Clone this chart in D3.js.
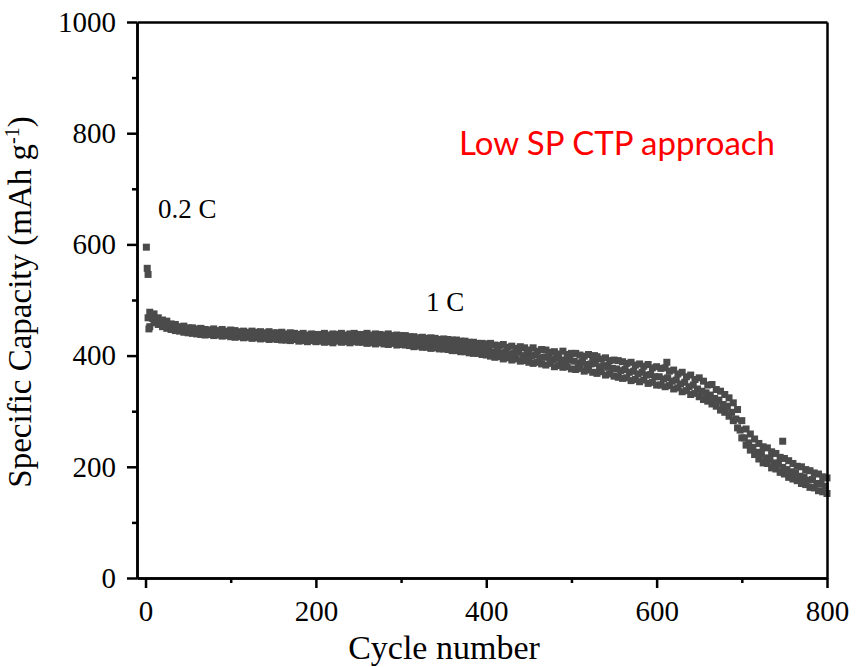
<!DOCTYPE html>
<html>
<head>
<meta charset="utf-8">
<script src="https://cdn.jsdelivr.net/npm/d3@7"></script>
<style>
body{margin:0;background:#fff;}
.ax .domain,.ax line{stroke:#000;stroke-width:2.5;}
</style>
</head>
<body>
<svg id="plot" width="856" height="667"></svg>
<script>
//capacity vs cycle

var cycles = [5,10,15,20,25,30,35,40,45,50,
	55,60,65,70,75,80,85,90,95,100,
	105,110,115,120,125,130,135,140,145,150,
	155,160,165,170,175,180,185,190,195,200,
	205,210,215,220,225,230,235,240,245,250,
	255,260,265,270,275,280,285,290,295,300,
	305,310,315,320,325,330,335,340,345,350,
	355,360,365,370,375,380,385,390,395,400,
	405,410,415,420,425,430,435,440,445,450,
	455,460,465,470,475,480,485,490,495,500,
	505,510,515,520,525,530,535,540,545,550,
	555,560,565,570,575,580,585,590,595,600,
	605,610,615,620,625,630,635,640,645,650,
	655,660,665,670,675,680,685,690,695,700,
	705,710,715,720,725,730,735,740,745,750,
	755,760,765,770,775,780,785,790,795,800];

var midCycles = [3,8,13,18,23,28,33,38,43,48,
	53,58,63,68,73,78,83,88,93,98,
	103,108,113,118,123,128,133,138,143,148,
	153,158,163,168,173,178,183,188,193,198,
	203,208,213,218,223,228,233,238,243,248,
	253,258,263,268,273,278,283,288,293,298,
	303,308,313,318,323,328,333,338,343,348,
	353,358,363,368,373,378,383,388,393,398,
	403,408,413,418,423,428,433,438,443,448,
	453,458,463,468,473,478,483,488,493,498,
	503,508,513,518,523,528,533,538,543,548,
	553,558,563,568,573,578,583,588,593,598,
	603,608,613,618,623,628,633,638,643,648,
	653,658,663,668,673,678,683,688,693,698,
	703,708,713,718,723,728,733,738,743,748,
	753,758,763,768,773,778,783,788,793,798];

// top edge of the band
var upperCap = [478,475,468,464,462,457,456,452,453,450,
	450,448,449,447,446,448,445,447,444,446,
	445,443,444,442,444,442,443,441,443,441,
	441,442,439,441,440,438,440,437,439,438,
	438,440,437,439,438,440,437,439,440,438,
	438,440,437,439,438,437,439,436,437,436,
	436,434,434,432,433,431,432,431,429,430,
	429,428,428,426,426,424,424,422,422,421,
	422,419,418,420,415,417,413,416,414,410,
	414,408,411,410,406,407,403,408,402,404,
	404,401,399,402,396,398,394,396,391,392,
	391,389,386,388,383,385,381,384,378,380,
	377,378,372,374,367,370,362,365,357,360,
	354,347,348,339,336,330,324,315,303,283,
	268,259,250,242,236,234,227,224,217,215,
	211,206,201,200,195,193,189,187,182,180];

// middle of the band
var midCap = [468,467,460,459,454,453,449,449,446,447,
	444,445,442,444,441,443,440,442,439,441,
	438,440,437,439,437,436,438,435,437,436,
	434,436,433,435,433,432,434,431,433,432,
	431,433,432,430,433,431,432,430,433,431,
	430,432,429,431,429,428,430,428,427,429,
	428,425,426,424,423,424,422,423,420,421,
	419,420,417,418,415,416,413,414,411,412,
	410,406,409,405,407,402,404,406,400,402,
	399,401,396,397,398,393,395,392,390,393,
	390,387,389,384,385,386,380,382,379,377,
	376,373,375,370,372,367,370,365,366,362,
	362,358,360,354,356,349,352,344,347,340,
	336,333,329,323,320,312,309,298,286,266,
	252,243,235,226,224,216,215,207,206,199,
	195,191,189,183,182,176,177,170,170,165];

// bottom edge of the band
var lowerCap = [452,459,456,452,449,447,445,444,442,441,
	440,439,438,437,438,436,437,435,436,434,
	433,434,432,433,431,432,430,431,429,430,
	429,428,428,427,429,426,427,425,427,425,
	426,424,425,423,426,424,425,423,425,424,
	424,422,423,421,423,421,420,422,419,420,
	419,418,416,417,415,415,413,414,412,412,
	411,409,409,407,407,405,404,404,402,401,
	399,397,398,394,396,392,394,390,391,388,
	386,388,385,383,386,380,382,379,380,376,
	375,377,372,374,370,368,371,365,367,363,
	361,359,360,355,357,353,356,350,352,347,
	347,344,346,340,342,335,337,330,332,326,
	321,318,313,309,302,298,291,283,270,252,
	239,230,222,214,207,206,198,196,190,187,
	181,178,175,170,168,163,162,157,155,152];

// 0.2 C formation cycles + a few stray points
var firstCycles = [1,2,3,4];
var firstCap = [595,557,546,448];
var strayCycles = [527,612,748];
var strayCap = [400,388,246];

var xTicks = [0,200,400,600,800];
var xMinor = [100,300,500,700];
var yTicks = [0,200,400,600,800,1000];
var yMinor = [100,300,500,700,900];

var serif = '"Liberation Serif","Times New Roman",serif';

var svg = d3.select("#plot");
var xs = d3.scaleLinear().domain([-10,800]).range([137,827]);
var ys = d3.scaleLinear().domain([0,1000]).range([578,22]);

function drawPoints(xv,yv){
	svg.append("g")
	.selectAll("rect")
	.data(yv)
	.join("rect")
	.attr("x",function(d,i){return xs(xv[i])-3.5;})
	.attr("y",function(d){return ys(d)-3.5;})
	.attr("width",7)
	.attr("height",7)
	.attr("fill","#4b4b4b");
}

drawPoints(cycles,lowerCap);
drawPoints(midCycles,midCap);
drawPoints(cycles,upperCap);
drawPoints(firstCycles,firstCap);
drawPoints(strayCycles,strayCap);

function styleAxis(g){
	g.selectAll("text")
	.style("font-family",serif)
	.style("font-size","29px")
	.attr("fill","#000");
}

// frame: top + right
svg.append("g").attr("class","ax").attr("transform","translate(0,22)")
	.call(d3.axisTop(xs).tickValues([]).tickSizeOuter(0));
svg.append("g").attr("class","ax").attr("transform","translate(827,0)")
	.call(d3.axisRight(ys).tickValues([]).tickSizeOuter(0));

// bottom axis
svg.append("g").attr("class","ax").attr("transform","translate(0,578)")
	.call(d3.axisBottom(xs).tickValues(xMinor).tickSize(5).tickFormat("").tickSizeOuter(0));
svg.append("g").attr("class","ax").attr("transform","translate(0,578)")
	.call(d3.axisBottom(xs).tickValues(xTicks).tickSize(10).tickPadding(12).tickSizeOuter(0).tickFormat(d3.format("d")))
	.call(styleAxis);

// left axis
svg.append("g").attr("class","ax").attr("transform","translate(137,0)")
	.call(d3.axisLeft(ys).tickValues(yMinor).tickSize(5).tickFormat("").tickSizeOuter(0));
svg.append("g").attr("class","ax").attr("transform","translate(137,0)")
	.call(d3.axisLeft(ys).tickValues(yTicks).tickSize(10).tickPadding(11).tickSizeOuter(0).tickFormat(d3.format("d")))
	.call(styleAxis);

svg.append("text")
	.attr("x",444).attr("y",659)
	.attr("text-anchor","middle")
	.style("font-family",serif).style("font-size","34px")
	.text("Cycle number");

var yt = svg.append("text")
	.attr("transform","translate(31,302) rotate(-90)")
	.attr("text-anchor","middle")
	.style("font-family",serif).style("font-size","33px");
yt.append("tspan").text("Specific Capacity (mAh g");
yt.append("tspan").attr("dy","-12").style("font-size","20px").text("-1");
yt.append("tspan").attr("dy","12").text(")");

svg.append("text")
	.attr("x",158).attr("y",218)
	.style("font-family",serif).style("font-size","27px")
	.text("0.2 C");
svg.append("text")
	.attr("x",426).attr("y",311)
	.style("font-family",serif).style("font-size","27px")
	.text("1 C");

var note = svg.append("text")
	.attr("x",617).attr("y",155)
	.attr("text-anchor","middle")
	.attr("fill","#ff0000")
	.style("font-family","Lato, 'Open Sans', sans-serif").style("font-size","33px")
	.text("Low SP CTP approach");
if(note.node().getComputedTextLength() > 320)
	note.attr("textLength",320).attr("lengthAdjust","spacingAndGlyphs");
</script>
</body>
</html>
